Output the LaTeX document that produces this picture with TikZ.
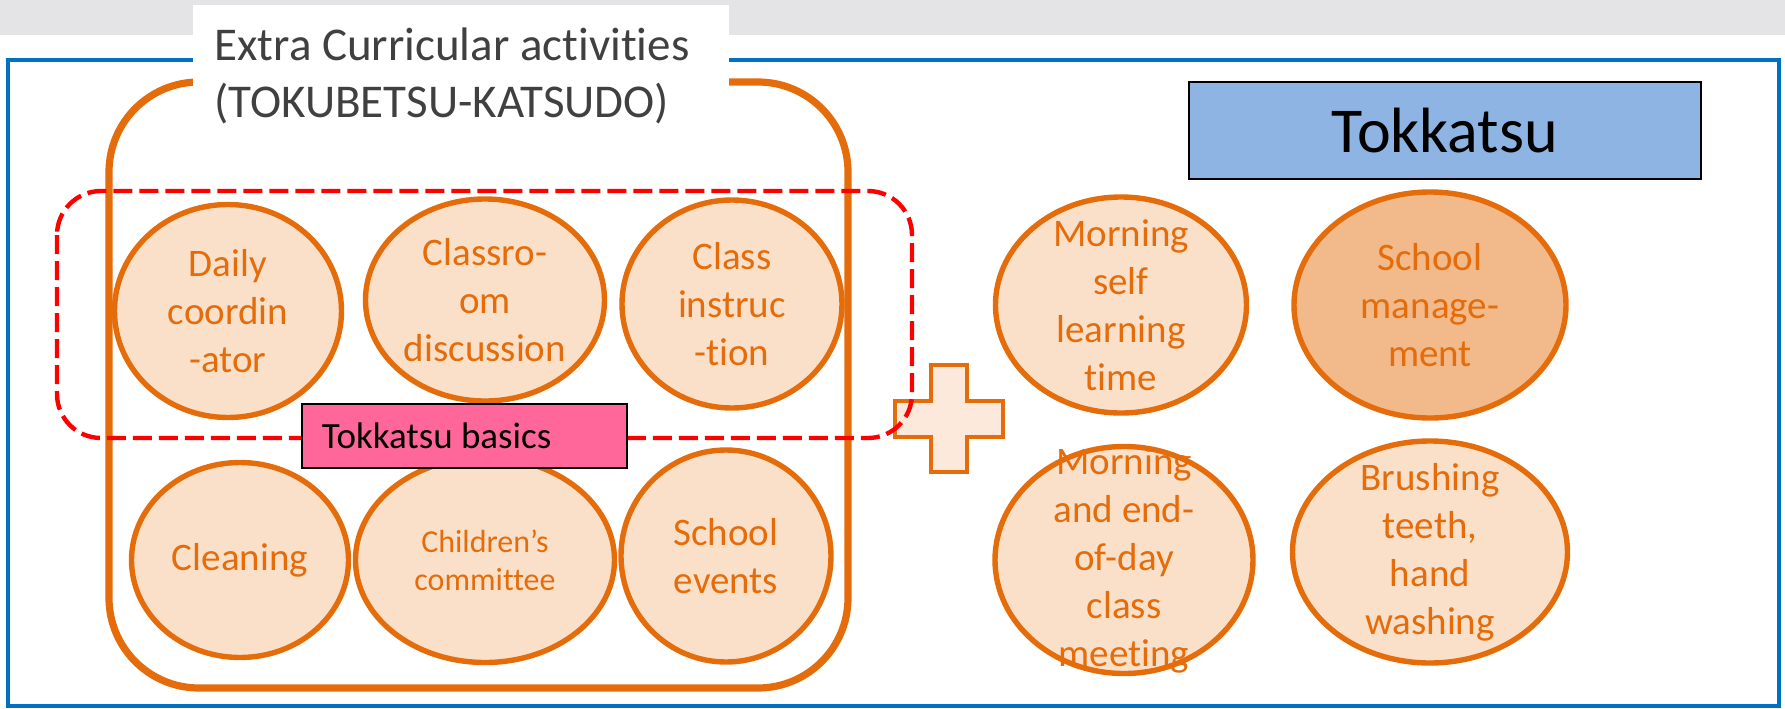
\documentclass[tikz,border=0pt]{standalone}
\usepackage{fontspec}
\setmainfont{Carlito}[Ligatures={NoCommon,NoContextual}]
\usetikzlibrary{shapes.geometric}
\definecolor{Band}{HTML}{E4E4E7}
\definecolor{Frame}{HTML}{0070C0}
\definecolor{Rust}{HTML}{E46C0A}
\definecolor{Peach}{HTML}{FBE0C9}
\definecolor{Apricot}{HTML}{F2B98A}
\definecolor{Blush}{HTML}{FCE9DB}
\definecolor{Rose}{HTML}{FF6699}
\definecolor{Sky}{HTML}{8EB4E3}
\definecolor{Slate}{HTML}{404040}
\definecolor{Signal}{HTML}{FF0000}
\tikzset{
 oval/.style={ellipse,draw=Rust,fill=Peach,line width=2.7pt,inner sep=0pt},
 ovaltext/.style={align=center,text=Rust,inner sep=0pt,font=\fontsize{19.5}{24}\selectfont},
 tag/.style={draw=black,line width=0.8pt,anchor=north west,inner ysep=0pt}
}
\begin{document}
\begin{tikzpicture}[x=0.5pt,y=-0.5pt]
\useasboundingbox (0,0) rectangle (1785,708);
% band and outer frame
\fill[Band] (0,0) rectangle (1785,35);
\draw[Frame,line width=2pt] (8,60) rectangle (1779,706);
% club box with its heading
\draw[Rust,line width=3.6pt,rounded corners=45pt] (109,82) rectangle (848,688);
\fill[white] (193,5) rectangle (729,128);
\node[anchor=west,align=flush left,inner sep=0pt,text=Slate,font=\fontsize{23.5}{28.5}\selectfont] (ttl) at (214,76) {Extra Curricular activities\\(TOKUBETSU-KATSUDO)};
% activities
\foreach \n/\x/\y/\w/\h/\t in {
 dly/228/311/113.5/106.5/{Daily\\coordin\\-ator},
 cls/485/300/119.5/101/{Classro-\\om\\discussion},
 ins/732/304/110/104/{Class\\instruc\\-tion},
 cln/240/560/108.5/97.5/{Cleaning},
 evt/726/556/105/106/{School\\events},
 msl/1121/305/125.5/108/{Morning\\self\\learning\\time},
 mec/1124/560/129/113.5/{Morning\\and end-\\of-day\\class\\meeting},
 brs/1430/552/137.5/111/{Brushing\\teeth,\\hand\\washing}}
{
 \node[oval,minimum width=\w pt,minimum height=\h pt] (\n) at (\x,\y) {};
 \node[ovaltext] (\n-t) at (\n) {\t};
}
\node[oval,minimum width=129.5pt,minimum height=102.5pt] (com) at (485,560) {};
\node[ovaltext,font=\fontsize{16}{19}\selectfont] (com-t) at (com) {Children’s\\committee};
\node[oval,fill=Apricot,minimum width=136pt,minimum height=113pt] (mgt) at (1430,305) {};
\node[ovaltext] (mgt-t) at (mgt) {School\\manage-\\ment};
% plus sign
\draw[Rust,fill=Blush,line width=1.8pt] (931,365) -- (967,365) -- (967,401) -- (1003,401) -- (1003,437) -- (967,437) -- (967,472) -- (931,472) -- (931,437) -- (895,437) -- (895,401) -- (931,401) -- cycle;
% basics group
\draw[Signal,line width=2.2pt,dash pattern=on 9.5pt off 3.5pt,rounded corners=22pt] (57,191) rectangle (912,438);
\node[tag,fill=Rose,text width=142.5pt,inner xsep=10pt,minimum height=32pt,align=flush left,font=\fontsize{18.5}{22}\selectfont] (bas) at (301,403) {Tokkatsu basics};
\node[tag,fill=Sky,minimum width=256pt,minimum height=48.5pt,font=\fontsize{32}{36}\selectfont] (tok) at (1188,81) {Tokkatsu};
\end{tikzpicture}
\end{document}
